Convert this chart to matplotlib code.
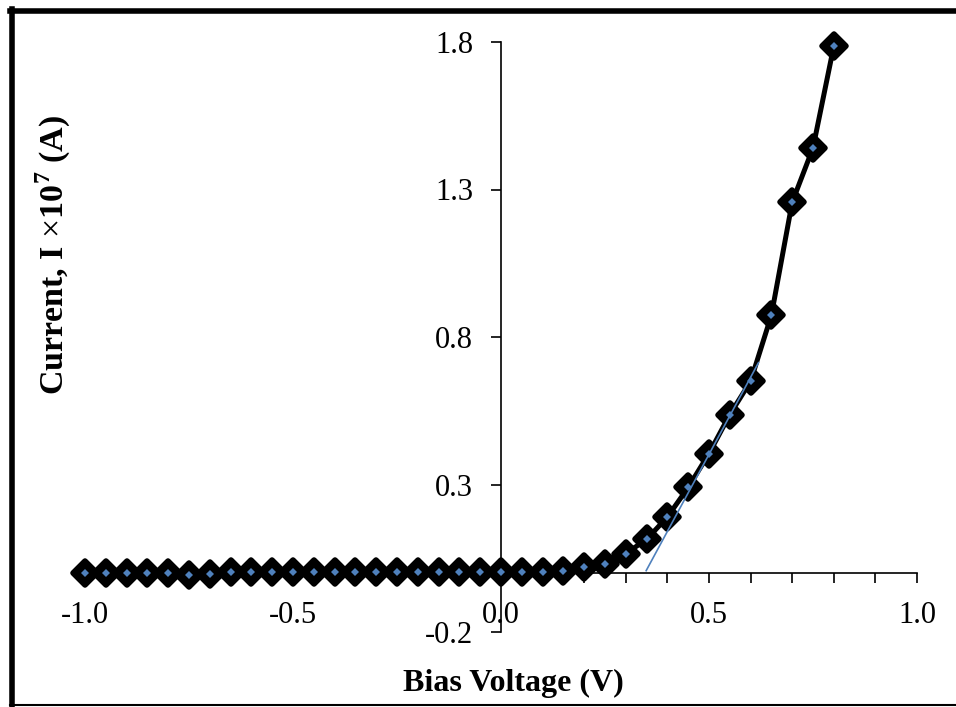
import matplotlib
matplotlib.use("Agg")
import matplotlib.pyplot as plt
from matplotlib.lines import Line2D
from matplotlib.markers import MarkerStyle
from matplotlib.ticker import MultipleLocator

plt.rcParams["font.family"] = ["Liberation Serif", "DejaVu Serif"]
plt.rcParams["mathtext.fontset"] = "custom"
plt.rcParams["mathtext.rm"] = "Liberation Serif"
plt.rcParams["mathtext.bf"] = "Liberation Serif:bold"

# I-V data (bias in V, current in 1e-7 A)
bias = [-1.00, -0.95, -0.90, -0.85, -0.80, -0.75, -0.70, -0.65, -0.60, -0.55,
        -0.50, -0.45, -0.40, -0.35, -0.30, -0.25, -0.20, -0.15, -0.10, -0.05,
        0.00, 0.05, 0.10, 0.15, 0.20, 0.25, 0.30, 0.35, 0.40, 0.45,
        0.50, 0.55, 0.60, 0.65, 0.70, 0.75, 0.80]
current = [0.000, 0.000, 0.000, 0.001, 0.001, -0.006, -0.005, 0.003, 0.003, 0.003,
           0.003, 0.004, 0.003, 0.002, 0.002, 0.002, 0.002, 0.002, 0.002, 0.002,
           0.002, 0.002, 0.002, 0.008, 0.020, 0.032, 0.066, 0.114, 0.190, 0.290,
           0.405, 0.537, 0.650, 0.874, 1.257, 1.441, 1.786]

# linear fit of the forward region
fit_x = [0.349, 0.619]
fit_y = [0.008, 0.713]

BLUE = "#4F81BD"

fig = plt.figure(figsize=(9.56, 7.07), dpi=100)
ax = fig.add_axes([85 / 956, 1 - 632 / 707, (917 - 85) / 956, (632 - 42) / 707])

diamond = MarkerStyle("D", joinstyle="round")
ax.plot(bias, current, color="black", linewidth=3.6, zorder=2, clip_on=False)
ax.plot(bias, current, linestyle="none", marker=diamond, markersize=12.5,
        markerfacecolor="black", markeredgecolor="black", markeredgewidth=4,
        zorder=3, clip_on=False)
ax.plot(bias, current, linestyle="none", marker="D", markersize=4,
        markerfacecolor=BLUE, markeredgecolor=BLUE, markeredgewidth=0,
        zorder=4, clip_on=False)
ax.plot(fit_x, fit_y, color=BLUE, linewidth=1.2, zorder=5)

ax.set_xlim(-1.0, 1.0)
ax.set_ylim(-0.2, 1.8)
ax.spines["left"].set_position(("data", 0))
ax.spines["bottom"].set_position(("data", 0))
ax.spines["top"].set_visible(False)
ax.spines["right"].set_visible(False)
for s in ("left", "bottom"):
    ax.spines[s].set_linewidth(1.2)

ax.set_xticks([-1.0, -0.5, 0.0, 0.5, 1.0])
ax.xaxis.set_minor_locator(MultipleLocator(0.1))
ax.set_yticks([-0.2, 0.3, 0.8, 1.3, 1.8])
ax.xaxis.set_major_formatter(plt.FuncFormatter(lambda v, p: f"{v:.1f}"))
ax.yaxis.set_major_formatter(plt.FuncFormatter(lambda v, p: f"{v:.1f}"))
ax.tick_params(axis="both", which="both", direction="out", length=7, width=1.2,
               labelsize=22, pad=13)

fig.text(513 / 956, 1 - 683 / 707, "Bias Voltage (V)", fontsize=23,
         fontweight="bold", ha="center", va="center")
fig.text(53 / 956, 1 - 255 / 707, r"Current, I $\times$10$^{\mathbf{7}}$ (A)",
         fontsize=24.5, fontweight="bold", rotation=90, ha="center", va="center")

# outer frame (right edge cropped in the original)
fig.add_artist(Line2D([12 / 956, 12 / 956], [0, 1 - 9 / 707], transform=fig.transFigure,
                      color="black", linewidth=4))
fig.add_artist(Line2D([10 / 956, 1], [1 - 11 / 707, 1 - 11 / 707], transform=fig.transFigure,
                      color="black", linewidth=4))
fig.add_artist(Line2D([10 / 956, 1], [1 - 705 / 707, 1 - 705 / 707], transform=fig.transFigure,
                      color="black", linewidth=1.5))

fig.savefig("out.png", dpi=100)
